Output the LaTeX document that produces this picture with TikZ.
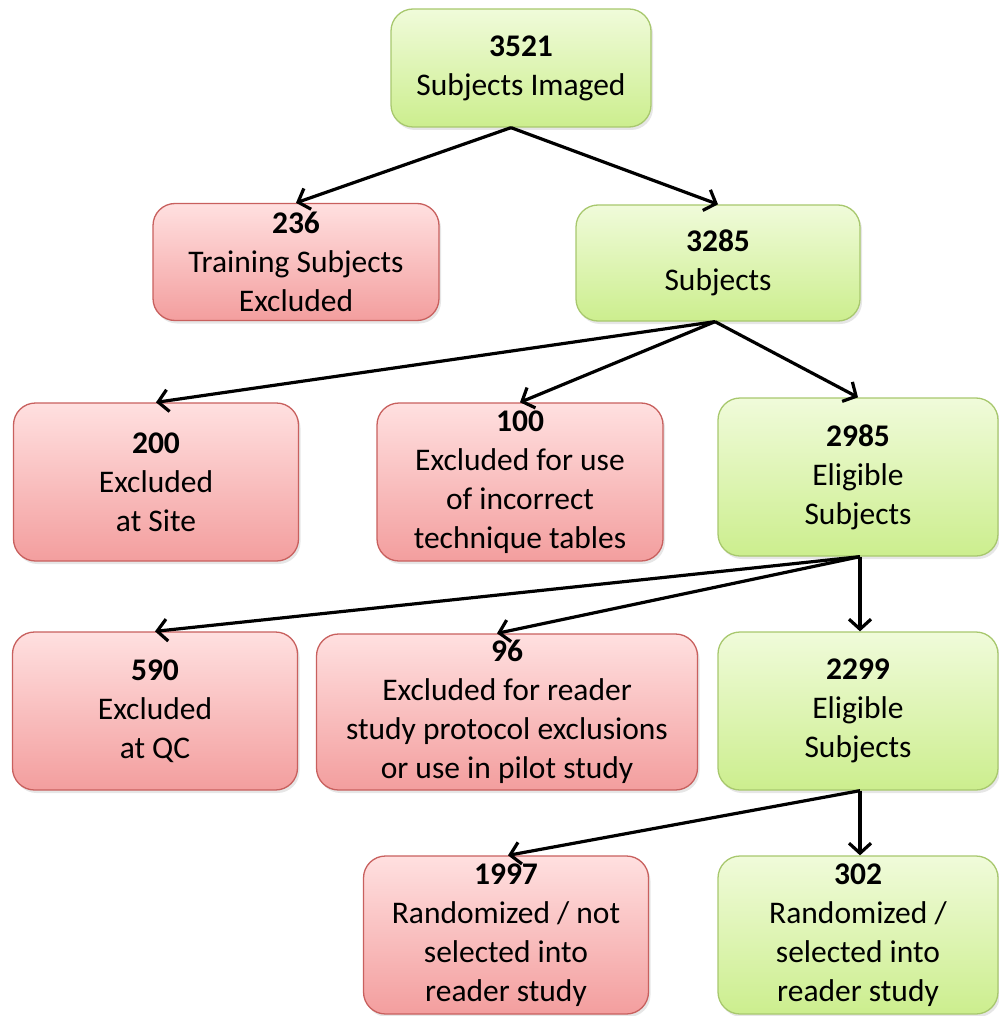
\documentclass[tikz,border=0pt]{standalone}
\usepackage{fontspec}
\setmainfont{Carlito}
\usepackage{tikz}
\usetikzlibrary{arrows.meta, shadows}
\definecolor{greentop}{RGB}{240,251,218}
\definecolor{greenbot}{RGB}{204,238,142}
\definecolor{greenline}{RGB}{168,200,110}
\definecolor{redtop}{RGB}{255,224,224}
\definecolor{redbot}{RGB}{243,158,158}
\definecolor{redline}{RGB}{200,96,94}
\tikzstyle{box} = [rectangle, rounded corners=22pt, inner sep=0pt, align=center, line width=1.3pt, text=black, font=\fontsize{31.5}{39}\selectfont, drop shadow={opacity=0.2, shadow xshift=2pt, shadow yshift=-3pt}]
\tikzstyle{keep} = [box, draw=greenline, top color=greentop, bottom color=greenbot]
\tikzstyle{drop} = [box, draw=redline, top color=redtop, bottom color=redbot]
\tikzstyle{arrow} = [line width=3.2pt, -{Straight Barb[length=10pt, width=22pt, line width=3.2pt]}]

\begin{document}
\begin{tikzpicture}[x=1pt, y=-1pt]
\useasboundingbox (0,0) rectangle (998,1016);
\node(imaged) [keep, minimum width=260pt, minimum height=118pt] at (521,68) {\textbf{3521}\\Subjects Imaged};
\node(training) [drop, minimum width=286pt, minimum height=117pt] at (296,262) {\textbf{236}\\Training Subjects\\Excluded};
\node(subjects) [keep, minimum width=284pt, minimum height=116pt] at (718,263) {\textbf{3285}\\Subjects};
\node(site) [drop, minimum width=285pt, minimum height=158pt] at (156,482) {\textbf{200}\\Excluded\\at Site};
\node(tables) [drop, minimum width=286pt, minimum height=158pt] at (520,482) {\textbf{100}\\Excluded for use\\of incorrect\\technique tables};
\node(eligible) [keep, minimum width=280pt, minimum height=158pt] at (858,477) {\textbf{2985}\\Eligible\\Subjects};
\node(qc) [drop, minimum width=285pt, minimum height=158pt] at (155,711) {\textbf{590}\\Excluded\\at QC};
\node(protocol) [drop, minimum width=381pt, minimum height=156pt] at (507,712) {\textbf{96}\\Excluded for reader\\study protocol exclusions\\or use in pilot study};
\node(eligible_qc) [keep, minimum width=280pt, minimum height=158pt] at (858,711) {\textbf{2299}\\Eligible\\Subjects};
\node(not_selected) [drop, minimum width=285pt, minimum height=158pt] at (506,935) {\textbf{1997}\\Randomized / not\\selected into\\reader study};
\node(selected) [keep, minimum width=280pt, minimum height=158pt] at (858,935) {\textbf{302}\\Randomized /\\selected into\\reader study};

\draw[arrow] ([xshift=-10pt]imaged.south) -- (training.north);
\draw[arrow] ([xshift=-10pt]imaged.south) -- (subjects.north);
\draw[arrow] ([xshift=-3pt]subjects.south) -- (site.north);
\draw[arrow] ([xshift=-3pt]subjects.south) -- (tables.north);
\draw[arrow] ([xshift=-3pt]subjects.south) -- (eligible.north);
\draw[arrow] ([xshift=2pt]eligible.south) -- (qc.north);
\draw[arrow] ([xshift=2pt]eligible.south) -- ([xshift=-10pt]protocol.north);
\draw[arrow] ([xshift=2pt]eligible.south) -- ([xshift=2pt]eligible_qc.north);
\draw[arrow] ([xshift=2pt]eligible_qc.south) -- ([xshift=2pt]not_selected.north);
\draw[arrow] ([xshift=2pt]eligible_qc.south) -- ([xshift=2pt]selected.north);
\end{tikzpicture}
\end{document}
